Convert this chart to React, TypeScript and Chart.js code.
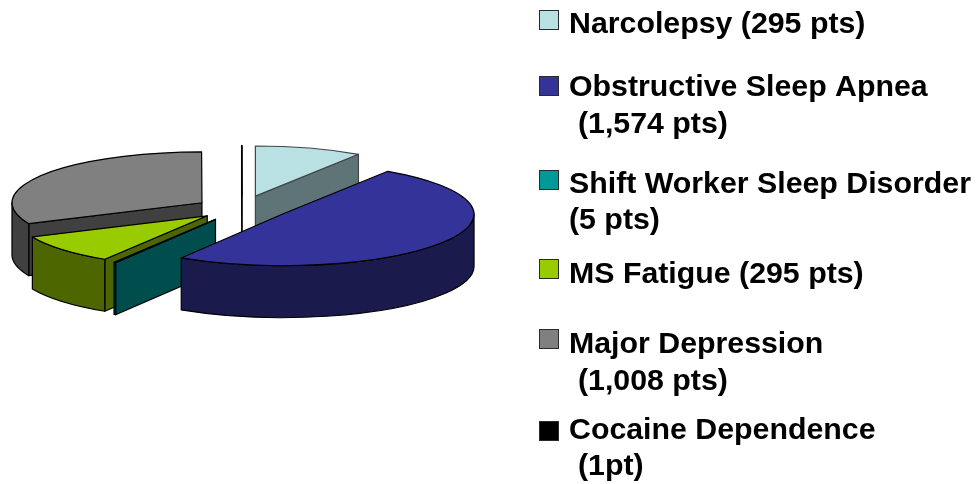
import React, { useEffect, useRef } from "react";
import { Chart, registerables } from "chart.js";

Chart.register(...registerables);

const legendLines = [
  ["Narcolepsy (295 pts)"],
  ["Obstructive Sleep Apnea", " (1,574 pts)"],
  ["Shift Worker Sleep Disorder", "(5 pts)"],
  ["MS Fatigue (295 pts)"],
  ["Major Depression", " (1,008 pts)"],
  ["Cocaine Dependence", " (1pt)"],
];
const categories = ["Narcolepsy", "Obstructive Sleep Apnea", "Shift Worker Sleep Disorder", "MS Fatigue", "Major Depression", "Cocaine Dependence"];
const patients = [295, 1574, 5, 295, 1008, 1];
const topColors = ["#B9E0E3", "#333399", "#009999", "#99CC00", "#808080", "#000000"];
const sideColors = ["#5F7476", "#1A1A4D", "#004D4D", "#4D6600", "#404040", "#000000"];
const edgeColors = ["#404646", "#000000", "#000000", "#000000", "#000000", "#000000"];

const PIE_RADIUS = 190;
const TILT = 0.268;
const DEPTH = 52;
const EXPLODE = 50;
const DRAW_ORDER = [4, 5, 0, 3, 2, 1];
const NUDGE_X = [-1, -2, 0, 3, 2, 0];
const NUDGE_Y = [1, -1, 0, -1, 2, 2];
const SIZE = [0.985, 1.01, 1, 1.01, 1, 1];
const SWATCH_TOPS = [10, 76, 170, 259, 329, 421];
const LINE_BASELINES = [[33], [96, 133], [193, 229], [283], [353, 390], [439, 475]];

const pie3d = {
  id: "pie3d",
  beforeDatasetDraw(chart: any, args: any) {
    const ctx = chart.ctx;
    const arcs = args.meta.data;
    for (const i of DRAW_ORDER) {
      const arc = arcs[i];
      const s = arc.startAngle;
      const e = arc.endAngle;
      const mid = (s + e) / 2;
      const a = arc.outerRadius * SIZE[i];
      const b = a * TILT;
      const cx = arc.x + Math.cos(mid) * EXPLODE + NUDGE_X[i];
      const cy = arc.y + Math.sin(mid) * EXPLODE * TILT + NUDGE_Y[i];
      ctx.save();
      ctx.lineJoin = "round";
      ctx.lineWidth = 1.2;
      ctx.strokeStyle = edgeColors[i];
      ctx.fillStyle = sideColors[i];
      const radial = (angle: number) => {
        const x = cx + Math.cos(angle) * a;
        const y = cy + Math.sin(angle) * b;
        ctx.beginPath();
        ctx.moveTo(cx, cy);
        ctx.lineTo(x, y);
        ctx.lineTo(x, y + DEPTH);
        ctx.lineTo(cx, cy + DEPTH);
        ctx.closePath();
        ctx.fill();
        ctx.stroke();
      };
      if (-Math.cos(s) > 0) radial(s);
      if (Math.cos(e) > 0) radial(e);
      const lo = Math.max(s, 0);
      const hi = Math.min(e, Math.PI);
      if (hi > lo) {
        ctx.beginPath();
        ctx.ellipse(cx, cy, a, b, 0, lo, hi);
        ctx.ellipse(cx, cy + DEPTH, a, b, 0, hi, lo, true);
        ctx.closePath();
        ctx.fill();
        ctx.stroke();
      }
      ctx.restore();

      ctx.save();
      ctx.translate(cx, cy);
      ctx.scale(SIZE[i], TILT * SIZE[i]);
      ctx.translate(-arc.x, -arc.y);
      arc.draw(ctx);
      ctx.restore();

      ctx.save();
      ctx.lineJoin = "round";
      ctx.lineWidth = 1.2;
      ctx.strokeStyle = edgeColors[i];
      ctx.beginPath();
      ctx.moveTo(cx, cy);
      ctx.ellipse(cx, cy, a, b, 0, s, e);
      ctx.closePath();
      ctx.stroke();
      ctx.restore();
    }
    return false;
  },
  afterDraw(chart: any) {
    const ctx = chart.ctx;
    ctx.save();
    ctx.textBaseline = "alphabetic";
    ctx.font = "bold 29px 'Liberation Sans', Arial, sans-serif";
    legendLines.forEach((lines, i) => {
      ctx.fillStyle = topColors[i];
      ctx.strokeStyle = "#2a2a2a";
      ctx.lineWidth = 1;
      ctx.fillRect(539.5, SWATCH_TOPS[i] + 0.5, 19, 19);
      ctx.strokeRect(539.5, SWATCH_TOPS[i] + 0.5, 19, 19);
      ctx.fillStyle = "#000";
      lines.forEach((line, j) => {
        const indented = line.startsWith(" ");
        ctx.save();
        ctx.translate(indented ? 578 : 569, LINE_BASELINES[i][j]);
        ctx.scale(1.045, 1);
        ctx.fillText(line.trim(), 0, 0);
        ctx.restore();
      });
    });
    ctx.restore();
  },
};

export default function App() {
  const ref = useRef<HTMLCanvasElement>(null);
  useEffect(() => {
    const chart = new Chart(ref.current as HTMLCanvasElement, {
      type: "pie",
      data: {
        labels: categories,
        datasets: [
          {
            data: patients,
            backgroundColor: topColors,
            borderWidth: 0,
            radius: PIE_RADIUS,
          },
        ],
      },
      options: {
        responsive: false,
        animation: false,
        layout: { padding: { left: 0, top: 0, right: 495, bottom: 68 } },
        plugins: { legend: { display: false }, tooltip: { enabled: false } },
      },
      plugins: [pie3d],
    } as any);
    return () => chart.destroy();
  }, []);
  return (
    <canvas
      ref={ref}
      width={979}
      height={484}
      style={{ position: "fixed", left: 0, top: 0, width: 979, height: 484, display: "block", filter: "blur(0.5px)" }}
    />
  );
}
